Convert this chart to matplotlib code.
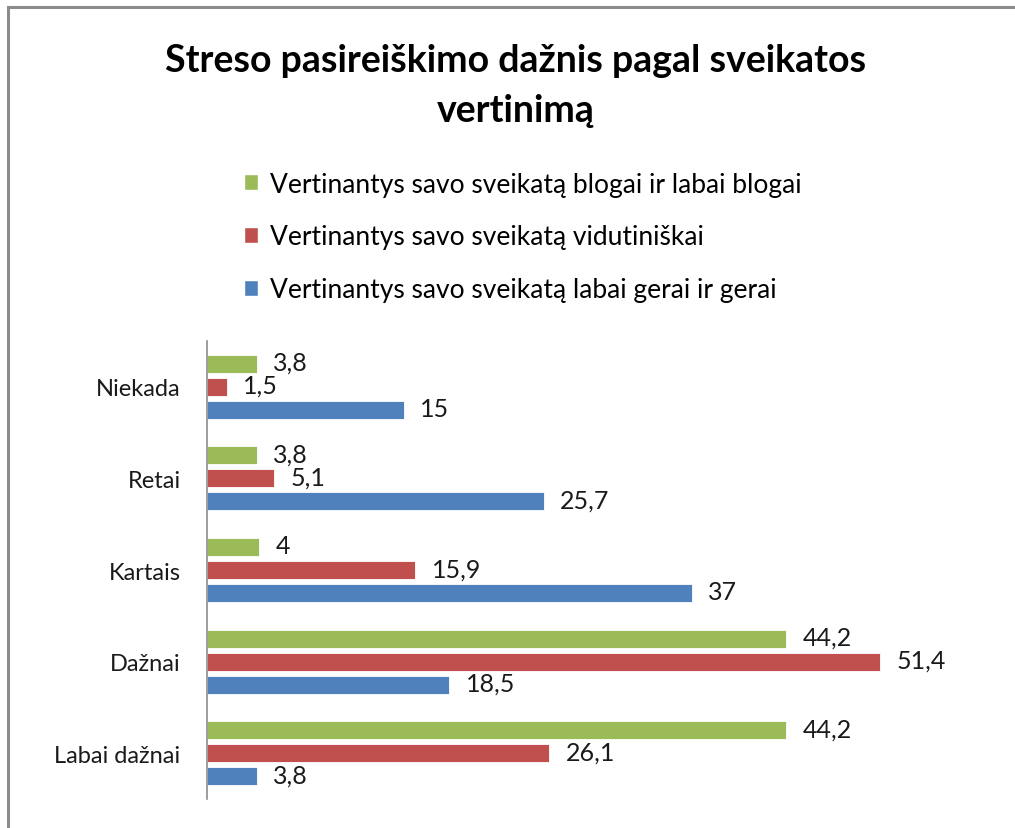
import numpy as np
import matplotlib.pyplot as plt
from matplotlib.patches import Rectangle, Patch

plt.rcParams['font.family'] = ['Lato', 'DejaVu Sans']

# Data
categories = ['Niekada', 'Retai', 'Kartais', 'Dažnai', 'Labai dažnai']
series_names = ['Vertinantys savo sveikatą blogai ir labai blogai',
                'Vertinantys savo sveikatą vidutiniškai',
                'Vertinantys savo sveikatą labai gerai ir gerai']
bad = [3.8, 3.8, 4, 44.2, 44.2]
medium = [1.5, 5.1, 15.9, 51.4, 26.1]
good = [15, 25.7, 37, 18.5, 3.8]
colors = ['#9BBB59', '#C0504D', '#4F81BD']

fig = plt.figure(figsize=(10.15, 8.29), dpi=100)
ax = fig.add_axes([207 / 1015, 1 - 800 / 829, 786 / 1015, 458 / 829])

y = np.arange(len(categories))
offsets = [-0.2514, 0, 0.2514]
bar_h = 0.197


def fmt(v):
    s = f'{v:g}'
    return s.replace('.', ',')


for vals, off, col in zip([bad, medium, good], offsets, colors):
    bars = ax.barh(y + off, vals, height=bar_h, color=col,
                   edgecolor='white', linewidth=0.6)
    for b, v in zip(bars, vals):
        ax.annotate(fmt(v), (b.get_width(), b.get_y() + b.get_height() / 2),
                    xytext=(12, 1), textcoords='offset points',
                    ha='left', va='center', fontsize=18, color='#1a1a1a')

ax.set_xlim(0, 60)
ax.set_ylim(4.5, -0.5)
ax.set_yticks(y)
ax.set_yticklabels(categories, fontsize=17, color='#1a1a1a')
ax.tick_params(axis='y', length=0, pad=19)
ax.set_xticks([])
for s in ['top', 'right', 'bottom']:
    ax.spines[s].set_visible(False)
ax.spines['left'].set_color('#8c8c8c')
ax.spines['left'].set_linewidth(1.2)

fig.text(0.508, 1 - 86 / 829,
         'Streso pasireiškimo dažnis pagal sveikatos\nvertinimą',
         ha='center', va='center', fontsize=27, fontweight='bold',
         linespacing=1.55)

handles = [Patch(facecolor=c, edgecolor='white') for c in colors]
fig.legend(handles, series_names, loc='upper left',
           bbox_to_anchor=(220 / 1015, 1 - 149 / 829), frameon=False,
           fontsize=19, labelspacing=1.05, handlelength=0.55,
           handleheight=0.55, handletextpad=0.45)

frame = Rectangle((8 / 1015, -0.1), 1.2, 1.1 - 8 / 829,
                  transform=fig.transFigure, fill=False,
                  edgecolor='#8c8c8c', linewidth=2.2, clip_on=False)
fig.patches.append(frame)

fig.savefig('out.png', dpi=100, facecolor='white')
